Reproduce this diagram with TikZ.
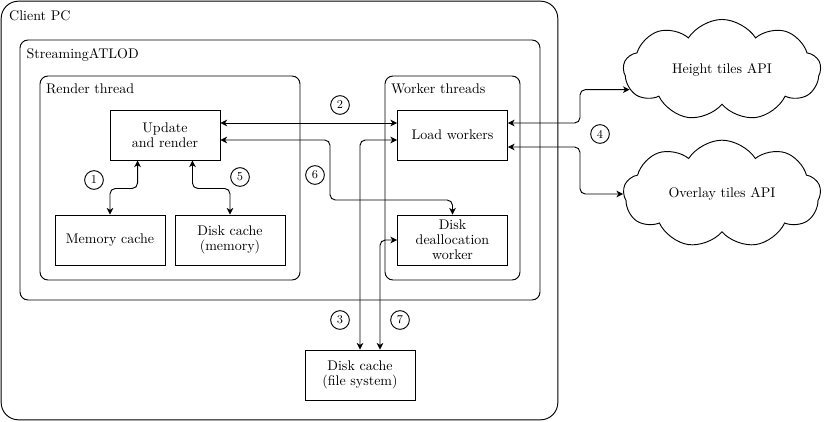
\documentclass[tikz,border=0pt]{standalone}
\usepackage{tikz}
\usetikzlibrary{arrows.meta,shapes.symbols}
\tikzset{
    group-box/.style = {draw, rectangle, rounded corners=6pt},
    group-title/.style = {anchor=north west, inner sep=0pt},
    plain-box/.style = {draw, rectangle, minimum width=82.5pt, minimum height=37.5pt, align=center, inner sep=2pt},
    api-cloud/.style = {draw, cloud, cloud puffs=9, cloud puff arc=115, aspect=2, minimum width=148pt, minimum height=74pt},
    num-circle/.style = {draw, circle, inner sep=0pt, minimum size=14pt, font=\small},
    link/.style = {{Stealth[length=5pt,width=5pt,inset=1.5pt]}-{Stealth[length=5pt,width=5pt,inset=1.5pt]}, rounded corners=4pt},
}

\begin{document}
\begin{tikzpicture}[x=0.75pt, y=-0.75pt, line width=0.7pt, font=\fontsize{10.5}{11.2}\selectfont]
\useasboundingbox (0,0) rectangle (831,421);

\node[group-box, rounded corners=13pt, minimum width=417.5pt, minimum height=314pt] (client) at (279.5,210.5) {};
\node[group-title] (client-title) at ([xshift=6pt,yshift=-7pt]client.north west) {Client PC};

\node[group-box, minimum width=390pt, minimum height=195pt] (atlod) at (280,170) {};
\node[group-title] (atlod-title) at ([xshift=5pt,yshift=-6pt]atlod.north west) {StreamingATLOD};

\node[group-box, minimum width=195pt, minimum height=153pt] (render) at (170,178) {};
\node[group-title] (render-title) at ([xshift=4.5pt,yshift=-6pt]render.north west) {Render thread};

\node[group-box, minimum width=101.25pt, minimum height=153pt] (worker) at (452.5,178) {};
\node[group-title] (worker-title) at ([xshift=4.5pt,yshift=-6pt]worker.north west) {Worker threads};

\node[plain-box] (update) at (165,135) {Update\\and render};
\node[plain-box] (memcache) at (110,240) {Memory cache};
\node[plain-box] (diskmem) at (230,240) {Disk cache\\(memory)};
\node[plain-box] (load) at (452.5,135) {Load workers};
\node[plain-box] (dealloc) at (452.5,240) {Disk\\deallocation\\worker};
\node[plain-box] (diskfs) at (360,375) {Disk cache\\(file system)};

\node[api-cloud] (height) at (722,70) {Height tiles API};
\node[api-cloud] (overlay) at (722,194) {Overlay tiles API};

\draw[link] ([xshift=-20.6pt]update.south) -- ++(0,28) -| (memcache.north);
\draw[link] ([yshift=9pt]update.east) -- ([yshift=9pt]load.west);
\draw[link] (diskfs.north) |- ([yshift=-3.75pt]load.west);
\draw[link] ([yshift=9pt]load.east) -- ++(72,0) |- (height.192);
\draw[link] ([yshift=-9pt]load.east) -- ++(72,0) |- (overlay.west);
\draw[link] ([xshift=20.6pt]update.south) -- ++(0,28) -| (diskmem.north);
\draw[link] ([yshift=-3.75pt]update.east) -| (330,200) -| (dealloc.north);
\draw[link] ([xshift=15pt]diskfs.north) |- (dealloc.west);

\node[num-circle] (n1) at (94,180) {1};
\node[num-circle] (n2) at (340,105) {2};
\node[num-circle] (n3) at (340,320) {3};
\node[num-circle] (n4) at (600,134) {4};
\node[num-circle] (n5) at (240,177) {5};
\node[num-circle] (n6) at (315,175) {6};
\node[num-circle] (n7) at (400,320) {7};
\end{tikzpicture}
\end{document}
